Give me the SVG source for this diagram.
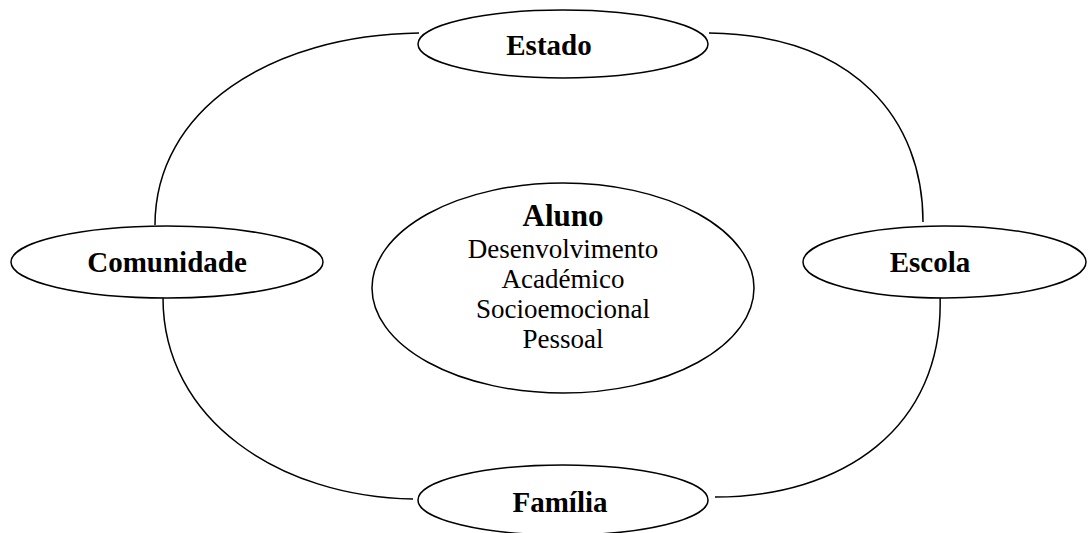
<svg xmlns="http://www.w3.org/2000/svg" width="1088" height="533" viewBox="0 0 1088 533">
<style>
.conn{fill:none;stroke:#000;stroke-width:1.5}
.node ellipse{fill:#fff;stroke:#000;stroke-width:1.5}
.lbl{font-family:"Liberation Serif","Times New Roman",serif;font-weight:bold;font-size:29px;text-anchor:middle;fill:#000}
.sub{font-family:"Liberation Serif","Times New Roman",serif;font-size:27px;text-anchor:middle;fill:#000}
</style>
<rect width="1088" height="533" fill="#fff"/>
<g id="connectors">
<path class="conn" d="M419,33 C270,35 155,110 155,225"/>
<path class="conn" d="M709,33 C855,35 923,120 923,222"/>
<path class="conn" d="M163,298 C163,420 280,497 413,499"/>
<path class="conn" d="M940,295 C945,430 840,497 715,497"/>
</g>
<g id="estado" class="node">
<ellipse cx="563" cy="44" rx="145" ry="34"/>
<text class="lbl" x="549" y="55">Estado</text>
</g>
<g id="comunidade" class="node">
<ellipse cx="167" cy="262" rx="156" ry="36"/>
<text class="lbl" x="167" y="272">Comunidade</text>
</g>
<g id="escola" class="node">
<ellipse cx="944.5" cy="262" rx="141.5" ry="36"/>
<text class="lbl" x="930" y="272">Escola</text>
</g>
<g id="familia" class="node">
<ellipse cx="563" cy="500" rx="145" ry="35"/>
<text class="lbl" x="560" y="512">Família</text>
</g>
<g id="aluno" class="node">
<ellipse cx="563" cy="288" rx="191" ry="105"/>
<text class="lbl" x="563" y="226" style="font-size:31px">Aluno</text>
<text class="sub" x="563" y="258">Desenvolvimento</text>
<text class="sub" x="563" y="288">Académico</text>
<text class="sub" x="563" y="318">Socioemocional</text>
<text class="sub" x="563" y="348">Pessoal</text>
</g>
</svg>
